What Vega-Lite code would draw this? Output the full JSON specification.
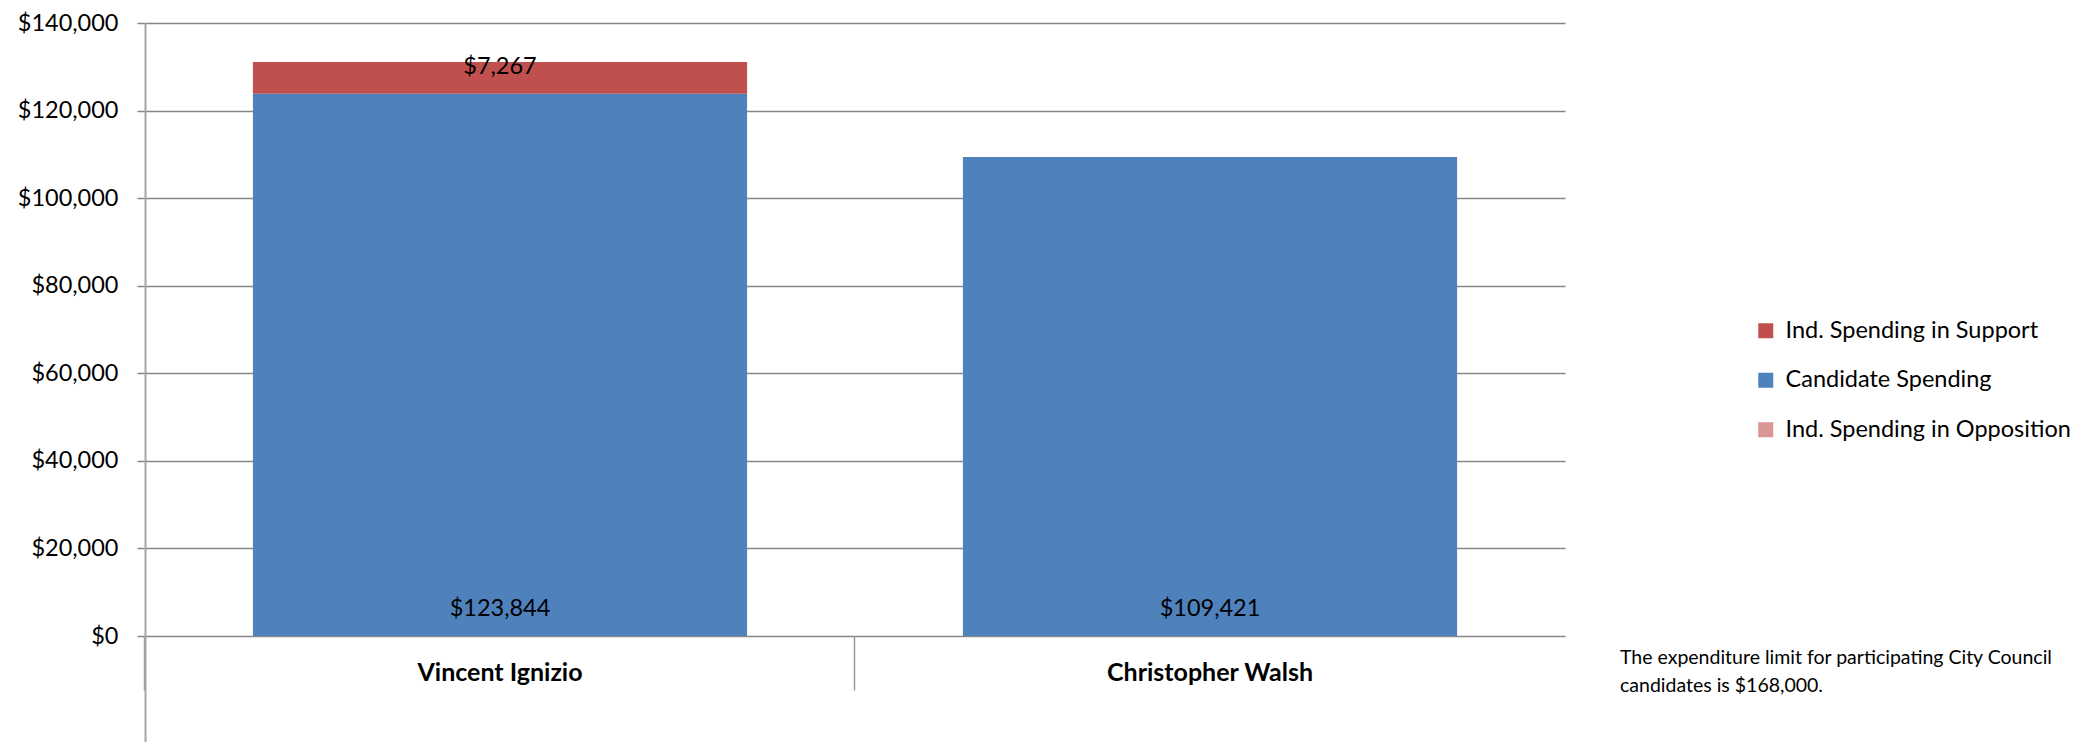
{
  "$schema": "https://vega.github.io/schema/vega-lite/v6.json",
  "width": 1420,
  "height": 719,
  "autosize": {"type": "none"},
  "padding": {"left": 145, "top": 23, "right": 529, "bottom": 0},
  "background": "white",
  "config": {"view": {"stroke": null}, "font": "Lato"},
  "title": {
    "text": ["The expenditure limit for participating City Council", "candidates is $168,000."],
    "orient": "bottom",
    "anchor": "end",
    "frame": "group",
    "align": "left",
    "baseline": "top",
    "dx": 55,
    "dy": -97,
    "fontSize": 19.5,
    "fontWeight": "normal",
    "color": "#000000",
    "font": "Lato",
    "lineHeight": 28,
    "limit": 0
  },
  "data": {
    "values": [
      {"candidate": "Vincent Ignizio", "type": "Candidate Spending", "value": 123844},
      {"candidate": "Vincent Ignizio", "type": "Ind. Spending in Support", "value": 7267},
      {"candidate": "Vincent Ignizio", "type": "Ind. Spending in Opposition", "value": 0},
      {"candidate": "Christopher Walsh", "type": "Candidate Spending", "value": 109421},
      {"candidate": "Christopher Walsh", "type": "Ind. Spending in Support", "value": 0},
      {"candidate": "Christopher Walsh", "type": "Ind. Spending in Opposition", "value": 0}
    ]
  },
  "transform": [
    {"stack": "value", "groupby": ["candidate"], "sort": [{"field": "type", "order": "ascending"}], "as": ["v0", "v1"]}
  ],
  "encoding": {
    "x": {
      "field": "candidate",
      "type": "nominal",
      "sort": ["Vincent Ignizio", "Christopher Walsh"],
      "scale": {"paddingInner": 0.304, "paddingOuter": 0.152},
      "axis": {
        "title": null,
        "orient": "bottom",
        "offset": -106,
        "domain": false,
        "ticks": true,
        "tickSize": 54,
        "tickColor": "#9a9a9a",
        "tickWidth": 1.5,
        "bandPosition": -0.2186,
        "labelAngle": 0,
        "labelFontSize": 25,
        "labelFontWeight": "bold",
        "labelColor": "#000000",
        "labelPadding": -18,
        "labelBaseline": "middle",
        "labelLimit": 0
      }
    }
  },
  "layer": [
    {
      "mark": {"type": "bar"},
      "encoding": {
        "y": {
          "field": "v1",
          "type": "quantitative",
          "scale": {"domain": [-24200, 140000], "nice": false, "zero": false},
          "axis": {
            "title": null,
            "values": [0, 20000, 40000, 60000, 80000, 100000, 120000, 140000],
            "format": "$,.0f",
            "grid": true,
            "gridColor": "#878787",
            "gridWidth": 1.5,
            "domain": true,
            "domainColor": "#a6a6a6",
            "domainWidth": 2,
            "tickColor": "#878787",
            "tickSize": 8,
            "tickWidth": 1.5,
            "labelFontSize": 23.5,
            "labelColor": "#000000",
            "labelPadding": 19
          }
        },
        "y2": {"field": "v0"},
        "color": {
          "field": "type",
          "type": "nominal",
          "scale": {
            "domain": ["Ind. Spending in Support", "Candidate Spending", "Ind. Spending in Opposition"],
            "range": ["#C0504D", "#4F81BD", "#D99694"]
          },
          "legend": {
            "title": null,
            "orient": "none",
            "legendX": 1609,
            "legendY": 296,
            "symbolType": "square",
            "symbolSize": 225,
            "symbolStrokeWidth": 0,
            "labelFontSize": 23.5,
            "labelColor": "#000000",
            "labelOffset": 8,
            "labelLimit": 0,
            "rowPadding": 24.5,
            "padding": 0
          }
        }
      }
    },
    {
      "transform": [{"filter": "datum.type === 'Candidate Spending'"}],
      "mark": {"type": "text", "dy": -27, "fontSize": 23.5, "baseline": "middle", "color": "#000000"},
      "encoding": {
        "y": {"field": "v0", "type": "quantitative"},
        "text": {"field": "value", "type": "quantitative", "format": "$,.0f"}
      }
    },
    {
      "transform": [{"filter": "datum.type === 'Ind. Spending in Support' && datum.value > 0"}],
      "mark": {"type": "text", "dy": 5, "fontSize": 23.5, "baseline": "middle", "color": "#000000"},
      "encoding": {
        "y": {"field": "v1", "type": "quantitative"},
        "text": {"field": "value", "type": "quantitative", "format": "$,.0f"}
      }
    }
  ]
}
